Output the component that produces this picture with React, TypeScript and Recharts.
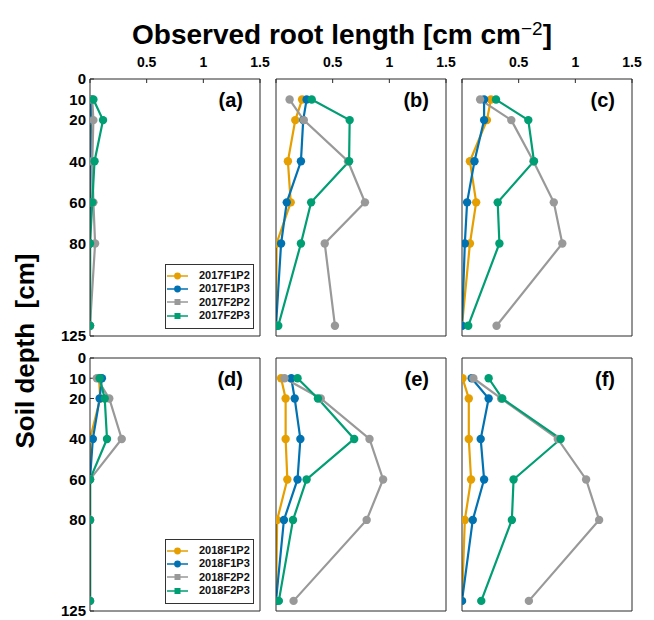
import React from "react";
import { LineChart, Line, XAxis, YAxis, Legend } from "recharts";

// depth of each sampling layer [cm]
const depths = [10, 20, 40, 60, 80, 120];
const seriesKeys = ["F1P2", "F1P3", "F2P2", "F2P3"];
const seriesColors = ["#E69F00", "#0072B2", "#999999", "#009E73"];
const legendShapes = ["circle", "circle", "square", "square"];
const xTicks = [0, 0.5, 1, 1.5];
const yTicks = [0, 10, 20, 40, 60, 80, 120, 125];
const yTickLabels: Record<number, string> = { 0: "0", 10: "10", 20: "20", 40: "40", 60: "60", 80: "80", 120: "", 125: "125" };

// (a) 2017
const a_F1P2 = [0.01, 0.01, 0, 0.005, 0, 0];
const a_F1P3 = [0.01, 0.005, 0.005, 0, 0, 0];
const a_F2P2 = [0.02, 0.03, 0.02, 0.03, 0.045, 0];
const a_F2P3 = [0.03, 0.115, 0.04, 0.02, 0, 0];
// (b) 2017
const b_F1P2 = [0.23, 0.17, 0.105, 0.13, 0.005, 0];
const b_F1P3 = [0.27, 0.24, 0.22, 0.095, 0.045, 0];
const b_F2P2 = [0.12, 0.245, 0.635, 0.785, 0.43, 0.52];
const b_F2P3 = [0.315, 0.65, 0.645, 0.31, 0.22, 0.02];
// (c) 2017
const c_F1P2 = [0.255, 0.22, 0.07, 0.125, 0.07, 0];
const c_F1P3 = [0.195, 0.195, 0.11, 0.045, 0.025, 0];
const c_F2P2 = [0.16, 0.435, 0.63, 0.81, 0.885, 0.305];
const c_F2P3 = [0.3, 0.585, 0.635, 0.315, 0.33, 0.055];
// (d) 2018
const d_F1P2 = [0.08, 0.09, 0, 0, 0, 0];
const d_F1P3 = [0.105, 0.085, 0.025, 0, 0, 0];
const d_F2P2 = [0.06, 0.17, 0.28, 0, 0, 0];
const d_F2P3 = [0.085, 0.13, 0.15, 0, 0, 0];
// (e) 2018
const e_F1P2 = [0.045, 0.085, 0.085, 0.1, 0.01, 0];
const e_F1P3 = [0.135, 0.165, 0.215, 0.19, 0.07, 0];
const e_F2P2 = [0.075, 0.395, 0.825, 0.945, 0.8, 0.155];
const e_F2P3 = [0.19, 0.37, 0.69, 0.27, 0.15, 0.025];
// (f) 2018
const f_F1P2 = [0.005, 0.06, 0.06, 0.08, 0.025, 0];
const f_F1P3 = [0.085, 0.235, 0.165, 0.195, 0.095, 0];
const f_F2P2 = [0.1, 0.345, 0.845, 1.095, 1.21, 0.59];
const f_F2P3 = [0.235, 0.355, 0.87, 0.455, 0.44, 0.17];

function buildRows(cols: number[][]) {
  return depths.map((depth, i) => {
    const row: Record<string, number> = { depth };
    seriesKeys.forEach((k, j) => {
      row[k] = cols[j][i];
    });
    return row;
  });
}

const FONT = "'Liberation Sans', Arial, Helvetica, sans-serif";
const AXIS = "#2b2b2b";

function LegendBox({ year }: { year: string }) {
  return (
    <div
      style={{
        width: 89,
        height: 65,
        border: "1px solid #333",
        boxSizing: "border-box",
        background: "#fff",
        paddingTop: 4,
        fontFamily: FONT,
      }}
    >
      {seriesKeys.map((k, i) => (
        <div key={k} style={{ display: "flex", alignItems: "center", height: 13.3 }}>
          <svg width={24} height={10} style={{ display: "block" }}>
            <line x1={1} x2={22} y1={5} y2={5} stroke={seriesColors[i]} strokeWidth={1.5} />
            {legendShapes[i] === "circle" ? (
              <circle cx={11.5} cy={5} r={3.4} fill={seriesColors[i]} />
            ) : (
              <rect x={8.5} y={2} width={6} height={6} fill={seriesColors[i]} />
            )}
          </svg>
          <span style={{ marginLeft: 9, fontSize: 11, fontWeight: "bold", color: "#111", lineHeight: "13px" }}>
            {year + k}
          </span>
        </div>
      ))}
    </div>
  );
}

type PanelProps = {
  rows: Record<string, number>[];
  left: number;
  top: number;
  w: number;
  h: number;
  label: string;
  showX: boolean;
  showY: boolean;
  legendYear?: string;
};

const padL = 40;
const padT = 30;
const padR = 16;
const padB = 12;

function Panel({ rows, left, top, w, h, label, showX, showY, legendYear }: PanelProps) {
  const tickStyle = { fill: "#000", fontWeight: "bold", fontFamily: FONT };
  return (
    <>
      <div style={{ position: "absolute", left: left - padL, top: top - padT }}>
        <LineChart
          width={padL + w + padR}
          height={padT + h + padB}
          data={rows}
          layout="vertical"
          margin={{ top: 0, right: 0, bottom: 0, left: 0 }}
          style={{ fontFamily: FONT }}
        >
          <XAxis
            xAxisId="top"
            orientation="top"
            type="number"
            domain={[0, 1.5]}
            ticks={xTicks}
            interval={0}
            allowDataOverflow
            height={padT}
            tickSize={-4}
            tickMargin={16}
            stroke={AXIS}
            tick={showX ? { ...tickStyle, fontSize: 14 } : false}
            tickFormatter={(v: number) => (v === 0 ? "" : String(v))}
          />
          <XAxis
            xAxisId="bottom"
            orientation="bottom"
            type="number"
            domain={[0, 1.5]}
            ticks={xTicks}
            interval={0}
            allowDataOverflow
            height={padB}
            tickSize={-4}
            stroke={AXIS}
            tick={false}
          />
          <YAxis
            yAxisId="left"
            orientation="left"
            type="number"
            dataKey="depth"
            domain={[0, 125]}
            ticks={yTicks}
            interval={0}
            allowDataOverflow
            width={padL}
            tickSize={-4}
            tickMargin={8}
            stroke={AXIS}
            tick={showY ? { ...tickStyle, fontSize: 15 } : false}
            tickFormatter={(v: number) => yTickLabels[v] ?? ""}
          />
          <YAxis
            yAxisId="right"
            orientation="right"
            type="number"
            dataKey="depth"
            domain={[0, 125]}
            ticks={yTicks}
            interval={0}
            allowDataOverflow
            width={padR}
            tickSize={-4}
            stroke={AXIS}
            tick={false}
          />
          {seriesKeys.map((k, i) => (
            <Line
              key={k}
              xAxisId="top"
              yAxisId="left"
              dataKey={k}
              name={(legendYear ?? "") + k}
              stroke={seriesColors[i]}
              strokeWidth={2.2}
              dot={{ r: 4.2, fill: seriesColors[i], stroke: "none" }}
              activeDot={false}
              isAnimationActive={false}
            />
          ))}
          {legendYear && (
            <Legend
              layout="horizontal"
              verticalAlign="middle"
              align="center"
              wrapperStyle={{ left: padL + 75, top: padT + h - 72, width: 89, height: 65 }}
              content={() => <LegendBox year={legendYear} />}
            />
          )}
        </LineChart>
      </div>
      <div
        style={{
          position: "absolute",
          left: left + w - 60,
          width: 43,
          top: top + 9,
          textAlign: "right",
          fontFamily: FONT,
          fontWeight: "bold",
          fontSize: 20,
          lineHeight: "24px",
          color: "#000",
        }}
      >
        {label}
      </div>
    </>
  );
}

const rowsA = buildRows([a_F1P2, a_F1P3, a_F2P2, a_F2P3]);
const rowsB = buildRows([b_F1P2, b_F1P3, b_F2P2, b_F2P3]);
const rowsC = buildRows([c_F1P2, c_F1P3, c_F2P2, c_F2P3]);
const rowsD = buildRows([d_F1P2, d_F1P3, d_F2P2, d_F2P3]);
const rowsE = buildRows([e_F1P2, e_F1P3, e_F2P2, e_F2P3]);
const rowsF = buildRows([f_F1P2, f_F1P3, f_F2P2, f_F2P3]);

export default function App() {
  const colLeft = [90, 276, 462];
  const rowTop = [79, 358];
  const w = 170;
  const h = [257, 253];
  return (
    <div
      style={{
        position: "absolute",
        left: 0,
        top: 0,
        width: 654,
        height: 620,
        background: "#fff",
        overflow: "hidden",
        fontFamily: FONT,
      }}
    >
      <div
        style={{
          position: "absolute",
          left: 0,
          width: 684,
          top: 13,
          textAlign: "center",
          fontSize: 28,
          fontWeight: "bold",
          lineHeight: "32px",
          color: "#000",
          whiteSpace: "nowrap",
        }}
      >
        Observed root length [cm cm<sup style={{ fontSize: 19, verticalAlign: 9, fontWeight: "normal" }}>−2</sup>]
      </div>
      <div
        style={{
          position: "absolute",
          left: 25,
          top: 351,
          transform: "translate(-50%, -50%) rotate(-90deg)",
          fontSize: 26,
          fontWeight: "bold",
          whiteSpace: "pre",
          lineHeight: "30px",
          color: "#000",
        }}
      >
        {"Soil depth  [cm]"}
      </div>
      <Panel rows={rowsA} left={colLeft[0]} top={rowTop[0]} w={w} h={h[0]} label="(a)" showX showY legendYear="2017" />
      <Panel rows={rowsB} left={colLeft[1]} top={rowTop[0]} w={w} h={h[0]} label="(b)" showX showY={false} />
      <Panel rows={rowsC} left={colLeft[2]} top={rowTop[0]} w={w} h={h[0]} label="(c)" showX showY={false} />
      <Panel rows={rowsD} left={colLeft[0]} top={rowTop[1]} w={w} h={h[1]} label="(d)" showX={false} showY legendYear="2018" />
      <Panel rows={rowsE} left={colLeft[1]} top={rowTop[1]} w={w} h={h[1]} label="(e)" showX={false} showY={false} />
      <Panel rows={rowsF} left={colLeft[2]} top={rowTop[1]} w={w} h={h[1]} label="(f)" showX={false} showY={false} />
    </div>
  );
}
